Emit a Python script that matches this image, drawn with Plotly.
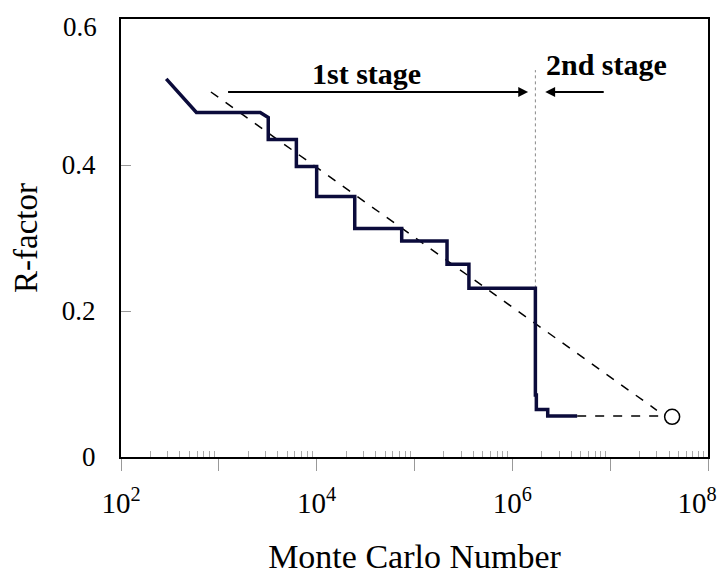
import numpy as np
import plotly.graph_objects as go

# Step curve of R-factor vs Monte Carlo number
mc_steps = [290, 590, 2650, 3100, 3200, 3200, 6200, 6200, 10000, 10000, 24500, 24500,
            74000, 74000, 215000, 215000, 360000, 360000, 1720000, 1720000, 1760000,
            1760000, 2300000, 2300000, 4600000]
r_steps = [0.518, 0.472, 0.472, 0.465, 0.465, 0.435, 0.435, 0.398, 0.398, 0.357, 0.357,
           0.313, 0.313, 0.296, 0.296, 0.264, 0.264, 0.231, 0.231, 0.085, 0.085,
           0.065, 0.065, 0.056, 0.056]

# Dashed trend line and extrapolation
trend_x = [830, 3.0e7]
trend_y = [0.500, 0.064]
extrap_x = [4.6e6, 4.3e7]
extrap_y = [0.056, 0.056]
final_x = [4.3e7]
final_y = [0.055]

# Stage boundary
boundary_x = 1.72e6
boundary_y = [0.231, 0.53]

# Stage arrows
stage1_x = [1200, 1.45e6]
stage2_x = [8.9e6, 2.17e6]
arrow_y = 0.5
stage1_label_x = 10 ** 4.51
stage2_label_x = 10 ** 6.96

NB = "\u00a0"
xtick_vals = [1e2, 1e3, 1e4, 1e5, 1e6, 1e7, 1e8]
xtick_text = ["10<sup>2</sup>", "", "10<sup>4</sup>", "", "10<sup>6</sup>", "",
              "10<sup>8</sup>" + NB * 3]
ytick_vals = [0, 0.2, 0.4, 0.6]
ytick_text = ["0", "0.2", "0.4", ""]
ytop_label = "0.6"
ytop_value = 0.6

minor_vals = [m * 10 ** k for k in range(2, 8) for m in range(2, 10)]

FONT = "Liberation Serif, Times New Roman, serif"

fig = go.Figure()
fig.add_trace(go.Scatter(x=[boundary_x, boundary_x], y=boundary_y, mode="lines",
                         line=dict(color="#888888", width=1, dash="dot"), showlegend=False))
fig.add_trace(go.Scatter(x=trend_x, y=trend_y, mode="lines",
                         line=dict(color="black", width=1.5, dash="dash"), showlegend=False))
fig.add_trace(go.Scatter(x=extrap_x, y=extrap_y, mode="lines",
                         line=dict(color="black", width=1.5, dash="dash"), showlegend=False))
fig.add_trace(go.Scatter(x=mc_steps, y=r_steps, mode="lines",
                         line=dict(color="#0b0b3b", width=3.5), showlegend=False))
fig.add_trace(go.Scatter(x=final_x, y=final_y, mode="markers",
                         marker=dict(size=15, color="white", line=dict(color="black", width=1.5)),
                         showlegend=False))

fig.add_annotation(x=np.log10(stage1_x[1]), y=arrow_y, ax=np.log10(stage1_x[0]), ay=arrow_y,
                   xref="x", yref="y", axref="x", ayref="y", text="", showarrow=True,
                   arrowhead=2, arrowsize=1.1, arrowwidth=1.8, arrowcolor="black")
fig.add_annotation(x=np.log10(stage2_x[1]), y=arrow_y, ax=np.log10(stage2_x[0]), ay=arrow_y,
                   xref="x", yref="y", axref="x", ayref="y", text="", showarrow=True,
                   arrowhead=2, arrowsize=1.1, arrowwidth=1.8, arrowcolor="black")
fig.add_annotation(x=np.log10(stage1_label_x), y=0.526, xref="x", yref="y",
                   text="<b>1st stage</b>", showarrow=False,
                   font=dict(family=FONT, size=30, color="black"))
fig.add_annotation(x=np.log10(stage2_label_x), y=0.537, xref="x", yref="y",
                   text="<b>2nd stage</b>", showarrow=False,
                   font=dict(family=FONT, size=30, color="black"))
# top y tick label, nudged down so it stays inside the figure as in the original
fig.add_annotation(x=0, y=ytop_value, xref="paper", yref="y", xanchor="right", yanchor="middle",
                   xshift=-22, yshift=-8, text=ytop_label, showarrow=False,
                   font=dict(family=FONT, size=27, color="black"))

fig.update_xaxes(type="log", range=[2, 8], tickmode="array", tickvals=xtick_vals,
                 ticktext=xtick_text, ticks="outside", ticklen=12, tickcolor="#999999",
                 tickwidth=1, showgrid=False, zeroline=False, showline=True, linecolor="black",
                 linewidth=2, mirror=True, automargin=False, ticklabelstandoff=7,
                 ticklabeloverflow="allow",
                 minor=dict(tickmode="array", tickvals=minor_vals, ticks="inside", ticklen=6,
                            tickcolor="#aaaaaa", tickwidth=1, showgrid=False),
                 tickfont=dict(family=FONT, size=29, color="black"),
                 title=dict(text="Monte Carlo Number", font=dict(family=FONT, size=34, color="black"),
                            standoff=32))
fig.update_yaxes(range=[0, 0.6], tickmode="array", tickvals=ytick_vals, ticktext=ytick_text,
                 ticks="inside", ticklen=10, tickcolor="#999999", tickwidth=1,
                 showgrid=False, zeroline=False, showline=True, linecolor="black", linewidth=2,
                 mirror=True, automargin=False, ticklabelstandoff=18,
                 ticklabeloverflow="allow",
                 tickfont=dict(family=FONT, size=27, color="black"),
                 title=dict(text="R-factor", font=dict(family=FONT, size=33, color="black"),
                            standoff=24))

fig.update_layout(width=717, height=567, margin=dict(l=113, r=17, t=11, b=118),
                  plot_bgcolor="white", paper_bgcolor="white", showlegend=False)

fig.write_html("out.html")
